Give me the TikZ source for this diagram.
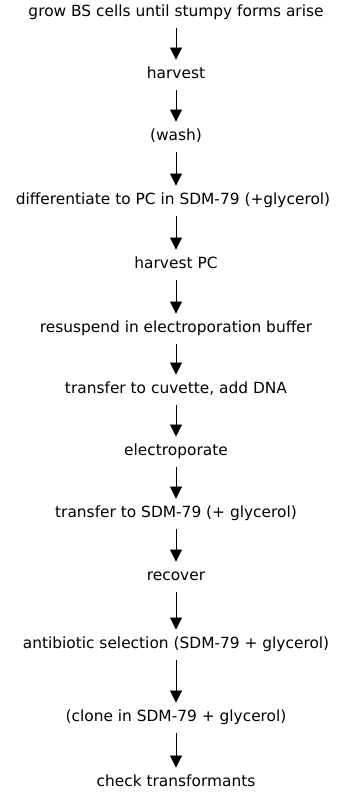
\documentclass[tikz,border=0pt]{standalone}
\usepackage{fontspec}
\setmainfont{DejaVu Sans}
\usetikzlibrary{arrows.meta}
\begin{document}
\begin{tikzpicture}[x=1pt,y=-1pt,
  stepbox/.style={anchor=mid,inner xsep=0pt,inner ysep=7.5pt,text height=11.5pt,text depth=3.5pt,font=\fontsize{15.4}{18}\selectfont},
  arr/.style={draw=black,line width=0.9pt,-{Triangle[width=12pt,length=12pt]}}]
\useasboundingbox[fill=white] (0,0) rectangle (339,794);
\coordinate (col) at (176,0);
\node[stepbox] (s1) at (176,14) {grow BS cells until stumpy forms arise};
\node[stepbox] (s2) at (176,76) {harvest};
\node[stepbox] (s3) at (176,138) {(wash)};
\node[stepbox] (s4) at (173,202) {differentiate to PC in SDM-79 (+glycerol)};
\node[stepbox] (s5) at (176,266) {harvest PC};
\node[stepbox] (s6) at (176,330) {resuspend in electroporation buffer};
\node[stepbox] (s7) at (176,391) {transfer to cuvette, add DNA};
\node[stepbox] (s8) at (176,453) {electroporate};
\node[stepbox] (s9) at (176,515) {transfer to SDM-79 (+ glycerol)};
\node[stepbox] (s10) at (176,578) {recover};
\node[stepbox] (s11) at (176,646) {antibiotic selection (SDM-79 + glycerol)};
\node[stepbox] (s12) at (176,719) {(clone in SDM-79 + glycerol)};
\node[stepbox] (s13) at (176,784) {check transformants};
\foreach \a/\b in {s1/s2,s2/s3,s3/s4,s4/s5,s5/s6,s6/s7,s7/s8,s8/s9,s9/s10,s10/s11,s11/s12,s12/s13}
  \draw[arr] (\a.south -| col) -- (\b.north -| col);
\end{tikzpicture}
\end{document}
